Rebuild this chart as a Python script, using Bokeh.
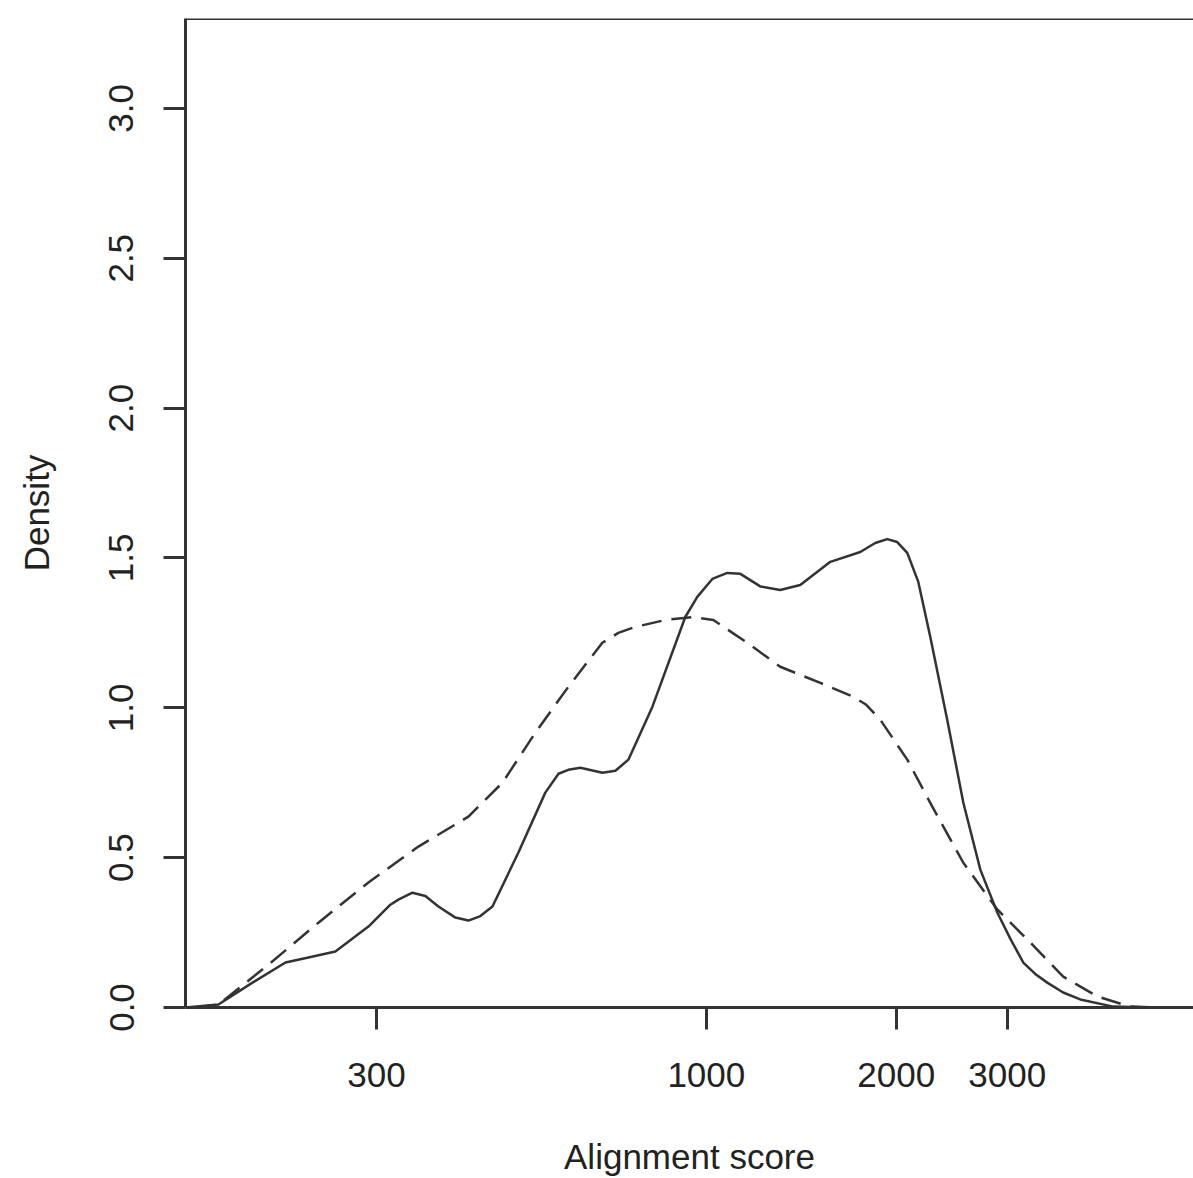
from bokeh.plotting import figure
from bokeh.models import Range1d, FixedTicker, NumeralTickFormatter, Span
from bokeh.embed import file_html
from bokeh.resources import INLINE

# Alignment score (x, log scale) and density values
solid_score = [149.4, 168.5, 190.8, 215.2, 234.0, 258.2, 291.3, 315.6, 325.0, 342.1,
               358.6, 376.1, 400.2, 419.6, 438.3, 458.1, 503.6, 555.6, 583.0, 604.3,
               631.5, 684.2, 717.6, 752.4, 821.1, 926.1, 967.6, 1022.2, 1079.6, 1132.3,
               1217.6, 1309.7, 1409.0, 1572.5, 1754.3, 1852.6, 1935.9, 2007.5, 2082.5,
               2168.0, 2264.6, 2409.4, 2555.4, 2718.7, 2892.4, 3032.8, 3180.6, 3322.0,
               3471.0, 3679.0, 3915.1, 4415.6, 5052.0]
solid_density = [0.0, 0.01, 0.083, 0.15, 0.167, 0.187, 0.27, 0.343, 0.36, 0.383,
                 0.372, 0.337, 0.30, 0.29, 0.305, 0.337, 0.517, 0.717, 0.78, 0.793,
                 0.80, 0.783, 0.79, 0.827, 1.003, 1.303, 1.37, 1.43, 1.45, 1.447,
                 1.405, 1.393, 1.41, 1.487, 1.52, 1.55, 1.563, 1.553, 1.517,
                 1.42, 1.237, 0.96, 0.683, 0.46, 0.317, 0.23, 0.15, 0.112,
                 0.083, 0.05, 0.027, 0.003, 0.0]

dashed_score = [155.0, 168.5, 202.3, 242.7, 291.3, 349.6, 419.6, 475.1, 535.8, 604.3,
                684.2, 725.3, 771.9, 861.0, 953.7, 1025.9, 1161.4, 1309.7, 1516.3,
                1710.0, 1793.0, 1887.4, 2082.5, 2264.6, 2555.4, 2892.4, 3262.0, 3679.4,
                4165.0, 4697.0, 5299.0]
dashed_density = [0.0, 0.01, 0.143, 0.283, 0.417, 0.537, 0.637, 0.75, 0.917, 1.07,
                  1.217, 1.25, 1.27, 1.293, 1.303, 1.293, 1.217, 1.137, 1.083,
                  1.037, 1.01, 0.96, 0.827, 0.683, 0.483, 0.327, 0.217, 0.103,
                  0.037, 0.003, 0.0]

x_ticks = [300, 1000, 2000, 3000]
y_ticks = [0.0, 0.5, 1.0, 1.5, 2.0, 2.5, 3.0]

FONT = "Liberation Sans"
INK = "#333333"

p = figure(width=1193, height=1178, x_axis_type="log",
           x_range=Range1d(149.4, 5920), y_range=Range1d(0, 3.3),
           output_backend="svg", toolbar_location=None,
           min_border_left=185, min_border_right=0,
           min_border_top=18, min_border_bottom=170)

p.xgrid.visible = False
p.ygrid.visible = False
p.outline_line_color = None
p.background_fill_color = "white"
p.border_fill_color = "white"

p.line(solid_score, solid_density, line_width=2.5, line_color=INK, line_join="round")
p.line(dashed_score, dashed_density, line_width=2.5, line_color=INK, line_dash="20 10",
       line_join="round")

for ax in (p.xaxis[0], p.yaxis[0]):
    ax.axis_line_width = 3
    ax.axis_line_color = INK
    ax.major_tick_line_width = 3
    ax.major_tick_line_color = INK
    ax.major_tick_out = 22
    ax.major_tick_in = 0
    ax.minor_tick_line_color = None
    ax.major_label_text_font = FONT
    ax.major_label_text_font_size = "35px"
    ax.major_label_text_color = "#222222"
    ax.axis_label_text_font = FONT
    ax.axis_label_text_font_size = "35px"
    ax.axis_label_text_font_style = "normal"
    ax.axis_label_text_color = "#222222"

p.xaxis[0].ticker = FixedTicker(ticks=x_ticks)
p.xaxis[0].formatter = NumeralTickFormatter(format="0")
p.xaxis[0].major_label_standoff = 33
p.xaxis[0].axis_label = "Alignment score"
p.xaxis[0].axis_label_standoff = 47

p.yaxis[0].ticker = FixedTicker(ticks=y_ticks)
p.yaxis[0].formatter = NumeralTickFormatter(format="0.0")
p.yaxis[0].major_label_orientation = "vertical"
p.yaxis[0].major_label_standoff = 30
p.yaxis[0].axis_label = "Density"
p.yaxis[0].axis_label_standoff = 51

p.add_layout(Span(location=3.3, dimension="width", line_color=INK, line_width=3))

open("out.html", "w").write(file_html(p, INLINE))
